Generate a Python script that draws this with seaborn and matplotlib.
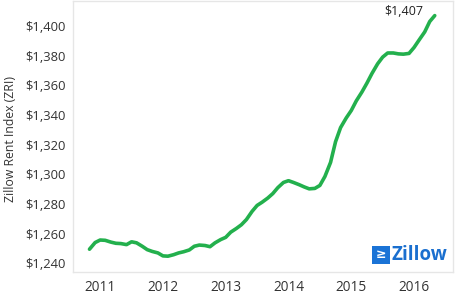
import matplotlib
matplotlib.use("Agg")
import matplotlib.pyplot as plt
import seaborn as sns
import pandas as pd
from matplotlib.patches import Rectangle

years = [2010.83, 2010.92,
         2011.00, 2011.08, 2011.17, 2011.25, 2011.33, 2011.42, 2011.50, 2011.58, 2011.67, 2011.75, 2011.83, 2011.92,
         2012.00, 2012.08, 2012.17, 2012.25, 2012.33, 2012.42, 2012.50, 2012.58, 2012.67, 2012.75, 2012.83, 2012.92,
         2013.00, 2013.08, 2013.17, 2013.25, 2013.33, 2013.42, 2013.50, 2013.58, 2013.67, 2013.75, 2013.83, 2013.92,
         2014.00, 2014.08, 2014.17, 2014.25, 2014.33, 2014.42, 2014.50, 2014.58, 2014.67, 2014.75, 2014.83, 2014.92,
         2015.00, 2015.08, 2015.17, 2015.25, 2015.33, 2015.42, 2015.50, 2015.58, 2015.67, 2015.75, 2015.83, 2015.92,
         2016.00, 2016.08, 2016.17, 2016.25, 2016.33]
zri = [1249.5, 1254.0,
       1255.7, 1255.5, 1254.3, 1253.5, 1253.3, 1252.6, 1254.5, 1253.8, 1251.5, 1249.2, 1248.0, 1247.0,
       1245.0, 1244.8, 1245.8, 1247.0, 1247.8, 1249.0, 1251.5, 1252.3, 1252.0, 1251.2, 1253.8, 1256.0,
       1257.5, 1261.0, 1263.5, 1266.0, 1269.5, 1275.0, 1279.0, 1281.2, 1284.0, 1287.0, 1291.0, 1294.5,
       1295.7, 1294.5, 1293.0, 1291.5, 1290.2, 1290.5, 1292.5, 1298.5, 1308.0, 1322.0, 1331.5, 1338.0,
       1343.0, 1349.5, 1355.5, 1361.5, 1368.0, 1374.5, 1379.0, 1381.8, 1381.8, 1381.2, 1381.0, 1381.5,
       1385.5, 1390.5, 1396.0, 1403.0, 1407.0]
x_ticks = [2011, 2012, 2013, 2014, 2015, 2016]
y_ticks = [1240, 1260, 1280, 1300, 1320, 1340, 1360, 1380, 1400]
y_tick_labels = ["$1,240", "$1,260", "$1,280", "$1,300", "$1,320", "$1,340", "$1,360", "$1,380", "$1,400"]
last_label = "$1,407"

sns.set_style("white")
plt.rcParams['font.family'] = ['Open Sans', 'DejaVu Sans']

df = pd.DataFrame({"year": years, "zri": zri})

fig = plt.figure(figsize=(4.66, 3.05), dpi=100)
ax = fig.add_axes([0.157, 0.108, 0.815, 0.889])
sns.lineplot(data=df, x="year", y="zri", ax=ax, color="#23b04d", linewidth=2.6)

ax.set_xlim(2010.57, 2016.62)
ax.set_ylim(1234.1, 1416.9)
ax.set_xticks(x_ticks)
ax.set_xticklabels([str(t) for t in x_ticks])
ax.set_yticks(y_ticks)
ax.set_yticklabels(y_tick_labels)
ax.set_xlabel("")
ax.set_ylabel("Zillow Rent Index (ZRI)", fontsize=8.8, color="#333333")
ax.yaxis.set_label_coords(-0.148, 0.49)
ax.tick_params(axis="both", labelsize=9.4, colors="#333333", length=3, color="#e6e6e6", pad=2.5)
ax.tick_params(axis="x", labelsize=9.8)
for s in ax.spines.values():
    s.set_color("#e6e6e6")
    s.set_linewidth(1)

ax.annotate(last_label, xy=(years[-1], zri[-1]), xytext=(-8, 3), textcoords="offset points",
            ha="right", va="center", fontsize=9, color="#222222")

# Zillow logo
fig.patches.append(Rectangle((372/466, 1-264/305), 18/466, 18/305, transform=fig.transFigure,
                             facecolor="#1a73d6", edgecolor="none"))
fig.text(381/466, 1-255/305, "≥", color="white", fontsize=9, fontweight="bold", ha="center", va="center",
         family=["DejaVu Sans"])
fig.text(392/466, 1-255.5/305, "Zillow", color="#1a6fcf", fontsize=13.5, fontweight="bold",
         ha="left", va="center")

fig.savefig("out.png", dpi=100)
